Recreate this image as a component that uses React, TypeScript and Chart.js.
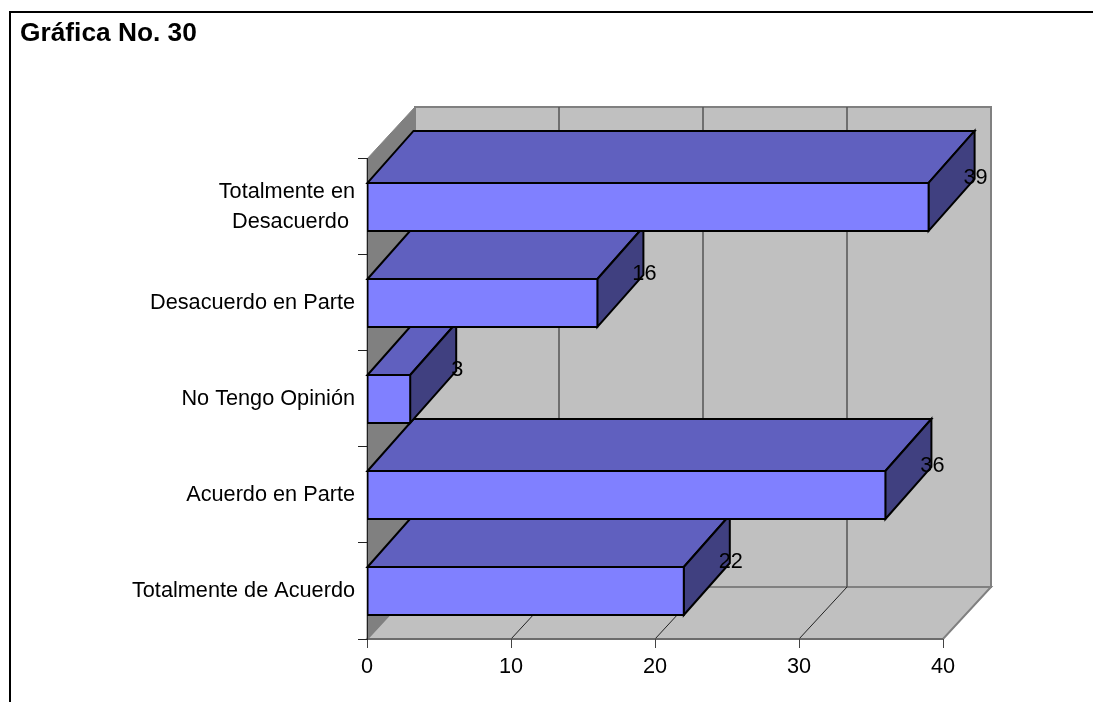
import React, { useEffect, useRef } from "react";
import { Chart, registerables } from "chart.js";

Chart.register(...registerables);

const categories = [
  "Totalmente de Acuerdo",
  "Acuerdo en Parte",
  "No Tengo Opinión",
  "Desacuerdo en Parte",
  ["Totalmente en", "Desacuerdo "],
];
const responses = [22, 36, 3, 16, 39];
const axisTicks = [0, 10, 20, 30, 40];

const FONT = '"Liberation Sans", Arial, sans-serif';
const LABEL_SIZE = 21.7;
const WALL_DX = 48;
const WALL_DY = -52;
const BAR_DX = 46;
const BAR_DY = -52;

const polygon = (ctx: CanvasRenderingContext2D, pts: number[][], fill: string, stroke: string, lw: number) => {
  ctx.beginPath();
  pts.forEach(([x, y], i) => (i ? ctx.lineTo(x, y) : ctx.moveTo(x, y)));
  ctx.closePath();
  ctx.fillStyle = fill;
  ctx.fill();
  ctx.lineWidth = lw;
  ctx.strokeStyle = stroke;
  ctx.lineJoin = "miter";
  ctx.stroke();
};

// Page frame, back wall, side wall and floor of the 3D box.
const boxPlugin = {
  id: "box3d",
  beforeDraw(chart: any) {
    const { ctx, chartArea: a, scales } = chart;
    ctx.save();
    ctx.fillStyle = "#000";
    ctx.fillRect(9, 11, chart.width - 9, 2);
    ctx.fillRect(9, 11, 2, chart.height - 11);

    const wallStroke = "#808080";
    polygon(ctx, [[a.left + WALL_DX, a.top + WALL_DY], [a.right + WALL_DX, a.top + WALL_DY], [a.right + WALL_DX, a.bottom + WALL_DY], [a.left + WALL_DX, a.bottom + WALL_DY]], "#C0C0C0", wallStroke, 2);
    polygon(ctx, [[a.left, a.bottom], [a.left + WALL_DX, a.bottom + WALL_DY], [a.right + WALL_DX, a.bottom + WALL_DY], [a.right, a.bottom]], "#C0C0C0", wallStroke, 2);
    polygon(ctx, [[a.left, a.top], [a.left + WALL_DX, a.top + WALL_DY], [a.left + WALL_DX, a.bottom + WALL_DY], [a.left, a.bottom]], "#808080", wallStroke, 1);

    axisTicks.slice(1, -1).forEach((v) => {
      const x = scales.x.getPixelForValue(v);
      ctx.beginPath();
      ctx.moveTo(x, a.bottom);
      ctx.lineTo(x + WALL_DX, a.bottom + WALL_DY);
      ctx.lineWidth = 1;
      ctx.strokeStyle = "#222";
      ctx.stroke();
      ctx.beginPath();
      ctx.moveTo(x + WALL_DX, a.bottom + WALL_DY);
      ctx.lineTo(x + WALL_DX, a.top + WALL_DY);
      ctx.lineWidth = 1.5;
      ctx.strokeStyle = "#555";
      ctx.stroke();
    });
    // Front edge of the floor.
    ctx.beginPath();
    ctx.moveTo(a.left, a.bottom);
    ctx.lineTo(a.right, a.bottom);
    ctx.lineWidth = 1.5;
    ctx.strokeStyle = "#666";
    ctx.stroke();
    ctx.restore();
  },
  // Top and side faces; the front faces come from the bar elements themselves.
  beforeDatasetsDraw(chart: any) {
    const { ctx } = chart;
    ctx.save();
    chart.getDatasetMeta(0).data.forEach((bar: any) => {
      const top = bar.y - bar.height / 2;
      const bottom = bar.y + bar.height / 2;
      polygon(ctx, [[bar.base, top], [bar.base + BAR_DX, top + BAR_DY], [bar.x + BAR_DX, top + BAR_DY], [bar.x, top]], "#6060BF", "#000", 2);
      polygon(ctx, [[bar.x, top], [bar.x + BAR_DX, top + BAR_DY], [bar.x + BAR_DX, bottom + BAR_DY], [bar.x, bottom]], "#404080", "#000", 2);
    });
    ctx.restore();
  },
  afterDatasetsDraw(chart: any) {
    const { ctx } = chart;
    ctx.save();
    ctx.font = `${LABEL_SIZE}px ${FONT}`;
    ctx.fillStyle = "#000";
    ctx.textAlign = "center";
    ctx.textBaseline = "middle";
    chart.getDatasetMeta(0).data.forEach((bar: any, i: number) => {
      ctx.fillText(String(responses[i]), bar.x + BAR_DX + 1, bar.y - 29);
    });
    ctx.restore();
  },
};

export default function App() {
  const ref = useRef<HTMLCanvasElement>(null);
  useEffect(() => {
    document.body.style.margin = "0";
    const chart = new Chart(ref.current!, {
      type: "bar",
      data: {
        labels: categories as any,
        datasets: [
          {
            data: responses,
            backgroundColor: "#8080FF",
            borderColor: "#000",
            borderWidth: 2,
            borderSkipped: false,
            inflateAmount: 1,
            barPercentage: 0.5,
            categoryPercentage: 1,
          },
        ],
      },
      options: {
        indexAxis: "y",
        responsive: false,
        animation: false,
        layout: { padding: { left: 20, right: 150, top: 0, bottom: 0 } },
        plugins: {
          legend: { display: false },
          tooltip: { enabled: false },
          title: {
            display: true,
            text: "Gráfica No. 30",
            align: "start",
            color: "#000",
            font: { family: FONT, size: 26.3, weight: "bold", lineHeight: 1.2 },
            padding: { top: 18, bottom: 109.4 },
          },
        },
        scales: {
          x: {
            type: "linear",
            min: 0,
            max: 40,
            ticks: { stepSize: 10, color: "#000", padding: 6, maxRotation: 0, font: { family: FONT, size: LABEL_SIZE } },
            grid: { drawOnChartArea: false, drawTicks: true, tickLength: 9, color: "#444", lineWidth: 1 },
            border: { display: false },
            afterFit: (s: any) => { s.height = 63; },
          },
          y: {
            type: "category",
            reverse: true,
            ticks: { color: "#000", padding: 3, font: { family: FONT, size: LABEL_SIZE, lineHeight: 1.38 }, autoSkip: false },
            grid: { drawOnChartArea: false, drawTicks: true, tickLength: 9, color: "#222", lineWidth: 1, offset: true },
            border: { display: true, color: "#222", width: 1 },
            afterFit: (s: any) => { s.width = 347; },
          },
        },
      } as any,
      plugins: [boxPlugin],
    });
    return () => chart.destroy();
  }, []);
  return <canvas ref={ref} width={1093} height={702} style={{ display: "block" }} />;
}
